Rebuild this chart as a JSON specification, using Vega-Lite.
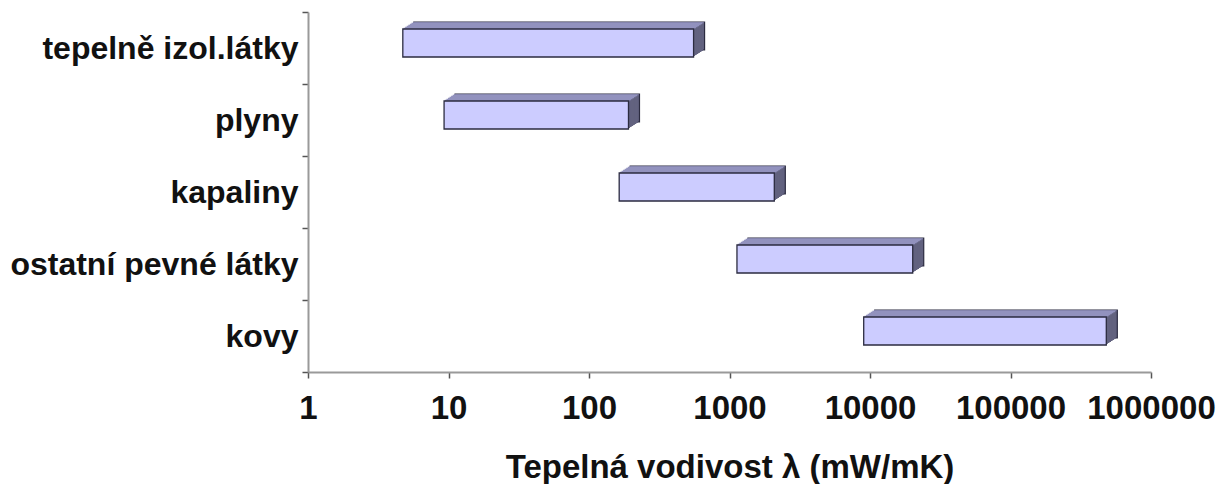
{
  "$schema": "https://vega.github.io/schema/vega-lite/v6.json",
  "width": 843,
  "height": 360,
  "autosize": {"type": "none"},
  "padding": {"left": 308, "top": 12, "right": 76, "bottom": 112},
  "background": "white",
  "config": {
    "view": {"stroke": null},
    "font": "Liberation Sans"
  },
  "data": {
    "values": [
      {"cat": "tepelně izol.látky", "lo": 4.73, "hi": 555},
      {"cat": "plyny", "lo": 9.3, "hi": 191},
      {"cat": "kapaliny", "lo": 164, "hi": 2084},
      {"cat": "ostatní pevné látky", "lo": 1130, "hi": 20140},
      {"cat": "kovy", "lo": 9020, "hi": 480700}
    ]
  },
  "encoding": {
    "x": {
      "field": "lo",
      "type": "quantitative",
      "scale": {"type": "log", "domain": [1, 1000000], "nice": false},
      "axis": {
        "values": [1, 10, 100, 1000, 10000, 100000, 1000000],
        "format": "d",
        "grid": false,
        "domainColor": "#9a9a9a",
        "domainWidth": 2,
        "tickColor": "#555555",
        "tickSize": 6,
        "tickWidth": 1.5,
        "labelFontSize": 33,
        "labelFontWeight": "bold",
        "labelColor": "#111111",
        "labelPadding": 14,
        "labelFlush": false,
        "title": "Tepelná vodivost  λ (mW/mK)",
        "titleFontSize": 33,
        "titleFontWeight": "bold",
        "titleColor": "#111111",
        "titlePadding": 26
      }
    },
    "x2": {"field": "hi"},
    "y": {
      "field": "cat",
      "type": "nominal",
      "sort": null,
      "scale": {"paddingInner": 0, "paddingOuter": 0},
      "axis": {
        "title": null,
        "tickBand": "extent",
        "domainColor": "#9a9a9a",
        "domainWidth": 2,
        "tickColor": "#555555",
        "tickSize": 6,
        "tickWidth": 1.5,
        "labelFontSize": 32,
        "labelFontWeight": "bold",
        "labelColor": "#111111",
        "labelPadding": 4,
        "labelLimit": 400
      }
    }
  },
  "layer": [
    {"mark": {"type": "bar", "height": 28, "xOffset": 11, "x2Offset": 11, "yOffset": -12, "fill": "#62627f", "stroke": "#2b2b40", "strokeWidth": 1.2}},
    {"mark": {"type": "bar", "height": 28, "xOffset": 9.43, "x2Offset": 9.43, "yOffset": -11, "fill": "#62627f"}},
    {"mark": {"type": "bar", "height": 28, "xOffset": 7.86, "x2Offset": 7.86, "yOffset": -10, "fill": "#62627f"}},
    {"mark": {"type": "bar", "height": 28, "xOffset": 6.29, "x2Offset": 6.29, "yOffset": -9, "fill": "#62627f"}},
    {"mark": {"type": "bar", "height": 28, "xOffset": 4.71, "x2Offset": 4.71, "yOffset": -8, "fill": "#62627f"}},
    {"mark": {"type": "bar", "height": 28, "xOffset": 3.14, "x2Offset": 3.14, "yOffset": -7, "fill": "#62627f"}},
    {"mark": {"type": "bar", "height": 28, "xOffset": 1.57, "x2Offset": 1.57, "yOffset": -6, "fill": "#62627f"}},
    {"mark": {"type": "bar", "height": 1.3, "xOffset": 0.79, "x2Offset": 0.79, "yOffset": -19.5, "fill": "#9292be"}},
    {"mark": {"type": "bar", "height": 1.3, "xOffset": 2.36, "x2Offset": 2.36, "yOffset": -20.5, "fill": "#9292be"}},
    {"mark": {"type": "bar", "height": 1.3, "xOffset": 3.93, "x2Offset": 3.93, "yOffset": -21.5, "fill": "#9292be"}},
    {"mark": {"type": "bar", "height": 1.3, "xOffset": 5.5, "x2Offset": 5.5, "yOffset": -22.5, "fill": "#9292be"}},
    {"mark": {"type": "bar", "height": 1.3, "xOffset": 7.07, "x2Offset": 7.07, "yOffset": -23.5, "fill": "#9292be"}},
    {"mark": {"type": "bar", "height": 1.3, "xOffset": 8.64, "x2Offset": 8.64, "yOffset": -24.5, "fill": "#9292be"}},
    {"mark": {"type": "bar", "height": 1.0, "xOffset": 10.21, "x2Offset": 10.21, "yOffset": -25.2, "fill": "#9292be"}},
    {"mark": {"type": "bar", "height": 28, "yOffset": -5, "fill": "#ccccff", "stroke": "#2b2b40", "strokeWidth": 1.3}}
  ]
}
